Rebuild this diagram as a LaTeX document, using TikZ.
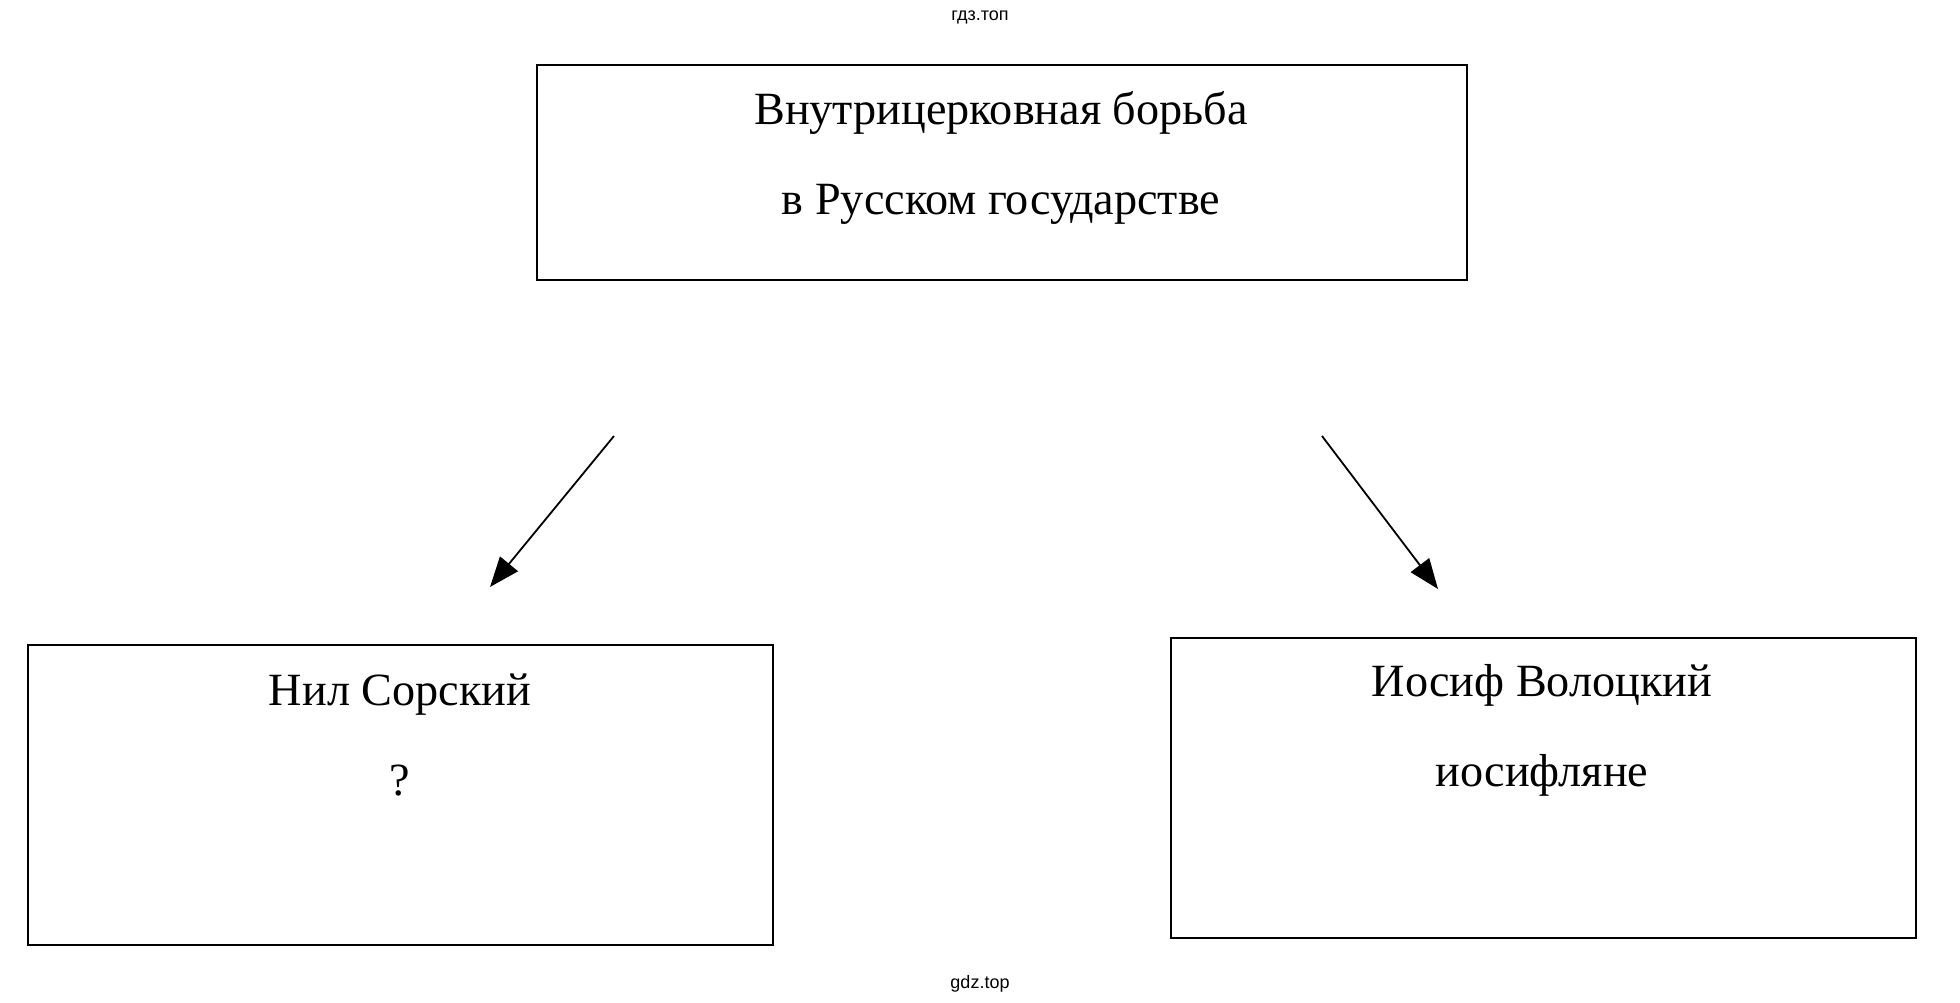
\documentclass[tikz,border=0pt]{standalone}
\usepackage{fontspec}
\setmainfont{Liberation Serif}
\newfontfamily\wmfont{Liberation Sans}
\usetikzlibrary{arrows.meta}
\tikzset{
  boxnode/.style={draw, line width=2pt, rectangle, inner sep=0pt, anchor=north west},
  txt/.style={anchor=base, inner sep=0pt, font=\fontsize{46.2}{55}\selectfont},
  wm/.style={anchor=base, inner sep=0pt, font=\wmfont\fontsize{18}{21}\selectfont},
  arr/.style={line width=1.8pt, -{Triangle[length=30pt,width=23pt]}}
}
\begin{document}
\begin{tikzpicture}[x=1pt,y=-1pt]
\useasboundingbox (0,0) rectangle (1960,1002);
\node[boxnode, minimum width=930pt, minimum height=215pt] (top) at (536,64) {};
\node[boxnode, minimum width=745pt, minimum height=300pt] (left) at (27,644) {};
\node[boxnode, minimum width=745pt, minimum height=300pt] (right) at (1170,637) {};
\node[txt] (t1) at (1001,124.5) {Внутрицерковная борьба};
\node[txt] (t2) at (1001,214.5) {в Русском государстве};
\node[txt] (l1) at (400,705) {Нил Сорский};
\node[txt] (l2) at (400,795) {?};
\node[txt] (r1) at (1542,696) {Иосиф Волоцкий};
\node[txt] (r2) at (1542,786) {иосифляне};
\node[wm] (w1) at (980,20) {гдз.топ};
\node[wm] (w2) at (980,988) {gdz.top};
\coordinate (ls) at (614,436);
\coordinate (le) at (490,587);
\coordinate (rs) at (1322,436);
\coordinate (re) at (1438,589);
\draw[arr] (ls) -- (le);
\draw[arr] (rs) -- (re);
\end{tikzpicture}
\end{document}
